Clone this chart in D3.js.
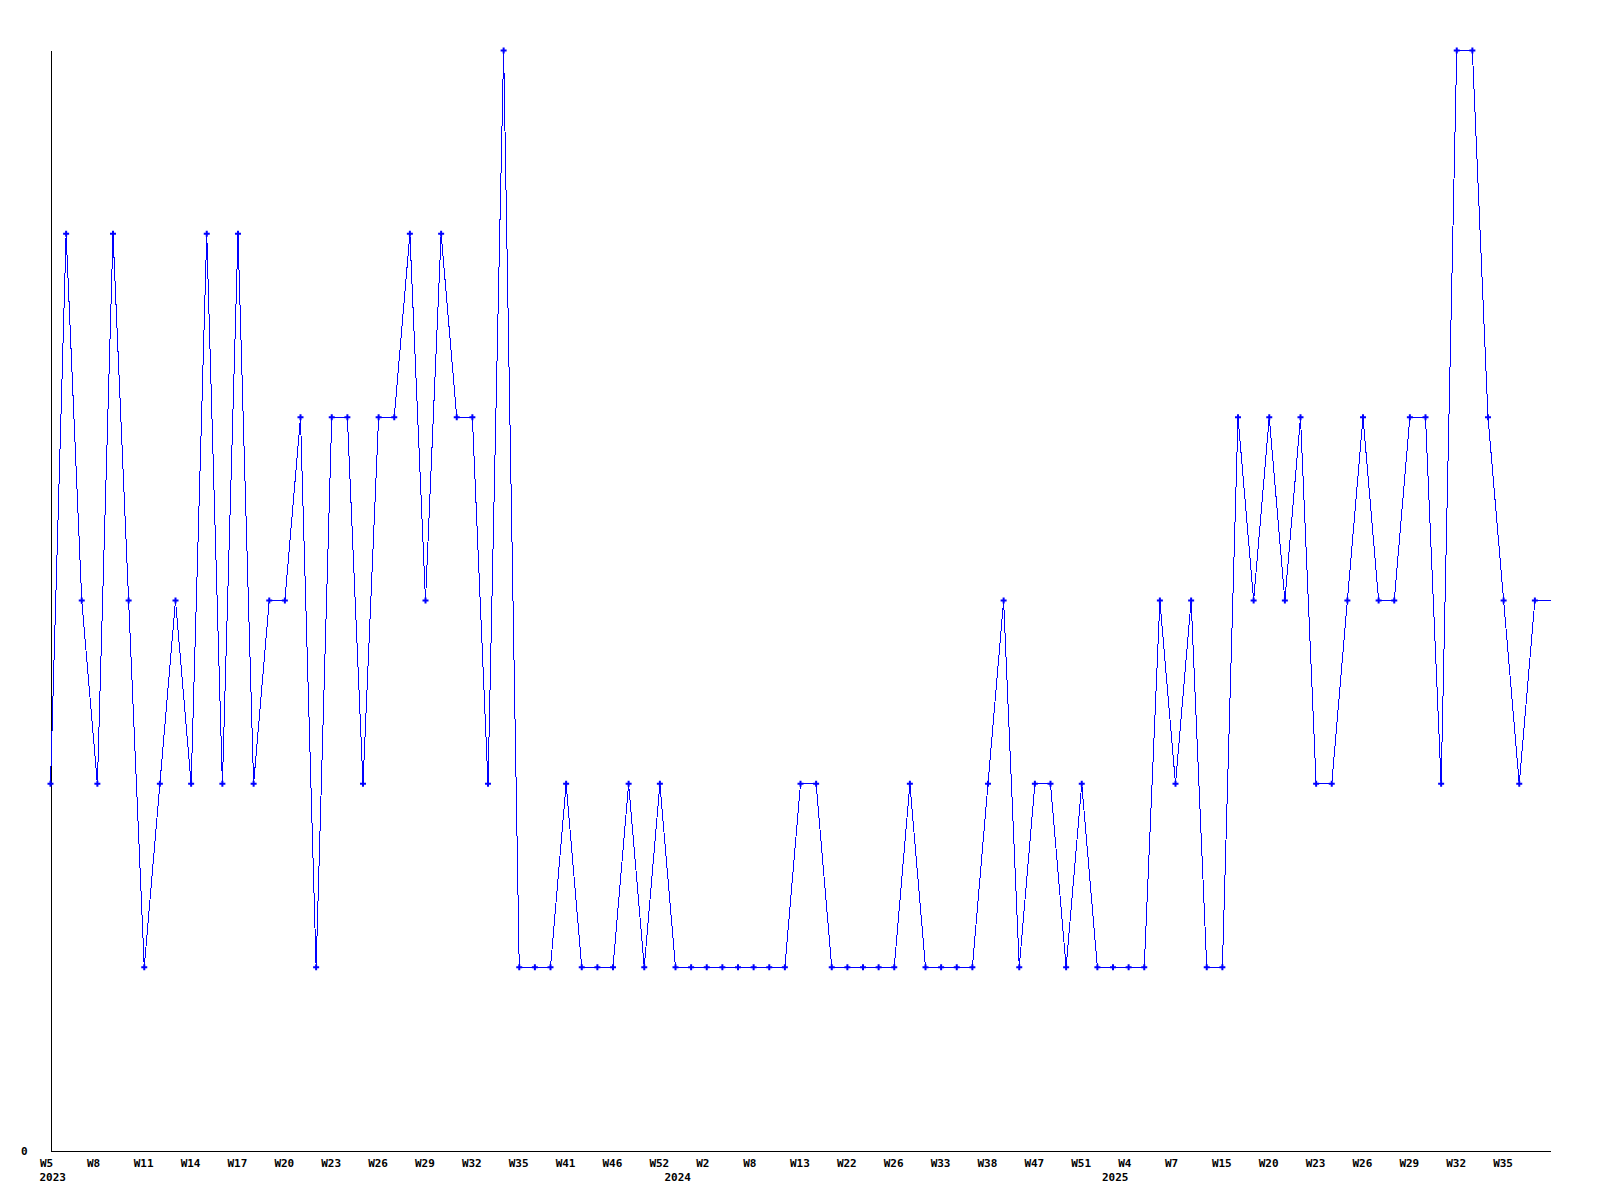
<!DOCTYPE html>
<html>
<head>
<meta charset="utf-8">
<script src="https://cdn.jsdelivr.net/npm/d3@7"></script>
<style>
  html, body { margin: 0; padding: 0; background: #fff; }
  svg { display: block; }
  text { font-family: "DejaVu Sans Mono", "Liberation Mono", monospace; font-weight: bold; font-size: 11px; fill: #000; }
</style>
</head>
<body>
<svg id="chart" width="1600" height="1200"></svg>
<script>
// ---- data ----
const weeks = [
  "W5","W6","W7","W8","W9","W10","W11","W12","W13","W14","W15","W16","W17","W18","W19","W20",
  "W21","W22","W23","W24","W25","W26","W27","W28","W29","W30","W31","W32","W33","W34","W35",
  "W37","W39","W41","W43","W44","W46","W48","W50","W52",
  "W1","W1","W2","W4","W6","W8","W10","W11","W13","W16","W19","W22","W23","W25","W26","W28",
  "W31","W33","W35","W36","W38","W41","W44","W47","W48","W50","W51","W52",
  "W2","W4","W5","W6","W7","W9","W12","W15","W17","W18","W20","W21","W22","W23","W24","W25",
  "W26","W27","W28","W29","W30","W31","W32","W33","W34","W35","W36","W37","W38"
];
const years = [
  ...Array(40).fill("2023"),
  ...Array(28).fill("2024"),
  ...Array(29).fill("2025")
];
const values = [
  2,5,3,2,5,3,1,2,3,2,5,2,5,2,3,3,4,1,4,4,2,4,4,5,3,5,4,4,2,6,1,
  1,1,2,1,1,1,2,1,2,
  1,1,1,1,1,1,1,1,2,2,1,1,1,1,1,2,1,1,1,1,2,3,1,2,2,1,2,1,
  1,1,1,3,2,3,1,1,4,3,4,3,4,2,2,3,4,3,3,4,4,2,6,6,4,3,2,3,3
];
const yTicks = [0];
const yMax = 6;

// ---- chart ----
const svg = d3.select("#chart");
const idx = d3.range(values.length);

const x = d3.scalePoint().domain(idx).range([50.5, 1550.5]).padding(0);
const y = d3.scaleLinear().domain([0, yMax]).range([1150.5, 50.5]);

// x axis: every third point, the last (edge) point unlabeled
const tickIdx = idx.filter(i => i % 3 === 0 && i < values.length - 1);
const xAxis = svg.append("g")
  .attr("transform", `translate(0,${y(0)})`)
  .call(d3.axisBottom(x).tickValues(tickIdx).tickSize(0).tickSizeOuter(0)
    .tickFormat(i => weeks[i]));
xAxis.select(".domain").attr("stroke", "#000").attr("shape-rendering", "crispEdges");
xAxis.selectAll("text")
  .attr("text-anchor", "start")
  .attr("dx", -11)
  .attr("dy", 0)
  .attr("y", 16)
  .style("font-family", "'DejaVu Sans Mono', monospace")
  .style("font-weight", "bold")
  .style("font-size", "11px");

// year labels at first point of each year
const yearStarts = idx.filter(i => i === 0 || years[i] !== years[i - 1]);
svg.append("g").selectAll("text.year")
  .data(yearStarts)
  .join("text")
  .attr("class", "year")
  .attr("x", i => x(i) - 11)
  .attr("y", 1181)
  .text(i => years[i]);

// y axis
const yAxis = svg.append("g")
  .attr("transform", `translate(${x(0)},0)`)
  .call(d3.axisLeft(y).tickValues(yTicks).tickSize(0).tickSizeOuter(0).tickFormat(d3.format("d")));
yAxis.select(".domain").attr("stroke", "#000").attr("shape-rendering", "crispEdges");
yAxis.selectAll("text")
  .attr("x", -23)
  .attr("dy", "0.32em")
  .style("font-family", "'DejaVu Sans Mono', monospace")
  .style("font-weight", "bold")
  .style("font-size", "11px");

// line
const line = d3.line().x((d, i) => x(i)).y(d => y(d));
svg.append("path")
  .datum(values)
  .attr("fill", "none")
  .attr("stroke", "#0000ff")
  .attr("stroke-width", 1)
  .attr("shape-rendering", "crispEdges")
  .attr("d", line);

// markers (clipped at the plot's right edge)
svg.append("clipPath").attr("id", "plotclip")
  .append("rect").attr("x", 0).attr("y", 0).attr("width", 1546).attr("height", 1200);
const sym = d3.symbol().type(d3.symbolCross).size(20);
svg.append("g").attr("clip-path", "url(#plotclip)")
  .selectAll("path.mk")
  .data(values)
  .join("path")
  .attr("class", "mk")
  .attr("transform", (d, i) => `translate(${x(i)},${y(d)})`)
  .attr("fill", "#0000ff")
  .attr("d", sym);
</script>
</body>
</html>
